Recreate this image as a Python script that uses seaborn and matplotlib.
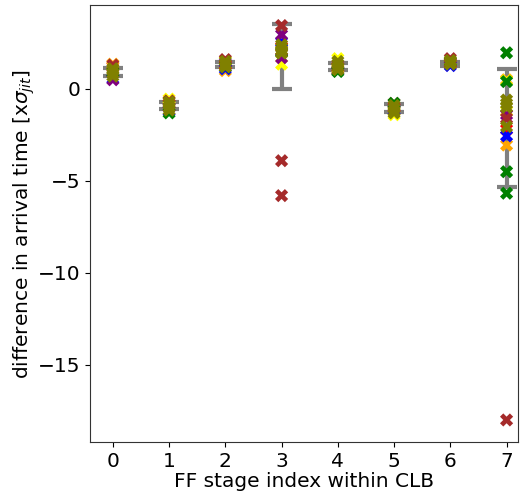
import numpy as np
import pandas as pd
import seaborn as sns
import matplotlib
matplotlib.use('Agg')
import matplotlib.pyplot as plt

# stage index and arrival-time difference, one list pair per colour
red_x = [0, 1, 2, 3, 4, 5, 6, 7]
red_y = [1.2, -0.8, 1.3, 2.3, 1.2, -1.0, 1.4, -2.2]
orange_x = [0, 1, 2, 3, 4, 5, 6, 7, 7]
orange_y = [1.35, -0.9, 1.0, 2.1, 1.1, -1.2, 1.3, -3.05, 0.5]
yellow_x = [0, 1, 2, 3, 4, 5, 6, 7, 7]
yellow_y = [1.25, -0.55, 1.55, 1.35, 1.65, -1.4, 1.5, -1.2, 0.45]
blue_x = [0, 1, 2, 3, 4, 5, 6, 7]
blue_y = [0.55, -1.2, 1.1, 2.55, 1.0, -1.15, 1.27, -2.55]
purple_x = [0, 1, 2, 3, 3, 4, 5, 6, 7]
purple_y = [0.5, -1.0, 1.4, 2.95, 1.7, 1.3, -1.05, 1.45, -1.4]
brown_x = [0, 1, 2, 3, 3, 3, 4, 5, 6, 7, 7]
brown_y = [1.3, -0.65, 1.6, 3.45, -3.9, -5.8, 1.0, -0.78, 1.65, -1.6, -18.0]
green_x = [0, 1, 2, 3, 4, 5, 6, 7, 7, 7, 7]
green_y = [0.9, -1.3, 1.2, 2.0, 0.95, -0.78, 1.5, 1.97, 0.4, -4.5, -5.67]
olive_x = [0, 0, 0, 0, 1, 1, 1, 1, 2, 2, 2, 3, 3, 3, 3,
           4, 4, 4, 4, 5, 5, 5, 5, 6, 6, 6, 7, 7, 7, 7]
olive_y = [0.7, 0.85, 1.0, 1.1, -0.7, -0.85, -1.0, -1.15, 1.2, 1.35, 1.5,
           1.95, 2.1, 2.25, 2.4, 1.05, 1.2, 1.35, 1.5, -0.9, -1.05, -1.2, -1.3,
           1.35, 1.45, 1.55, -0.6, -0.8, -1.0, -2.05]

# error bars per stage
stages = [0, 1, 2, 3, 4, 5, 6, 7]
err_center = [0.925, -0.895, 1.33, 1.765, 1.21, -1.05, 1.36, -2.11]
err_half = [0.215, 0.205, 0.16, 1.785, 0.2, 0.21, 0.13, 3.2]

groups = [('red', red_x, red_y), ('orange', orange_x, orange_y),
          ('yellow', yellow_x, yellow_y), ('blue', blue_x, blue_y),
          ('purple', purple_x, purple_y), ('brown', brown_x, brown_y),
          ('green', green_x, green_y), ('olive', olive_x, olive_y)]
rows = []
for c, xs, ys in groups:
    for x, y in zip(xs, ys):
        rows.append({'stage': x, 'diff': y, 'col': c})
df = pd.DataFrame(rows)

sns.set_style('ticks', {'axes.edgecolor': '0.2', 'text.color': 'black',
                        'axes.labelcolor': 'black', 'xtick.color': 'black',
                        'ytick.color': 'black'})
plt.rcParams['font.family'] = ['DejaVu Sans']

fig, ax = plt.subplots(figsize=(5.22, 4.95), dpi=100)
fig.subplots_adjust(left=0.172, right=0.992, top=0.990, bottom=0.107)

ax.errorbar(stages, err_center, yerr=err_half, fmt='none', ecolor='grey',
            elinewidth=3, capsize=7, capthick=3, zorder=1)
sns.scatterplot(data=df, x='stage', y='diff', hue='col',
                palette={c: c for c, _, _ in groups}, marker='X', s=90,
                linewidth=0, legend=False, ax=ax, zorder=2)

ax.set_xlim(-0.41, 7.2)
ax.set_ylim(-19.2, 4.57)
ax.set_xticks(stages)
ax.set_yticks([0, -5, -10, -15])
ax.tick_params(labelsize=14.5)
ax.set_xlabel('FF stage index within CLB', fontsize=14.5, labelpad=1)
ax.set_ylabel(r'difference in arrival time [x$\sigma_{jit}$]', fontsize=14.5,
              labelpad=0)

fig.savefig('out.png', dpi=100)
